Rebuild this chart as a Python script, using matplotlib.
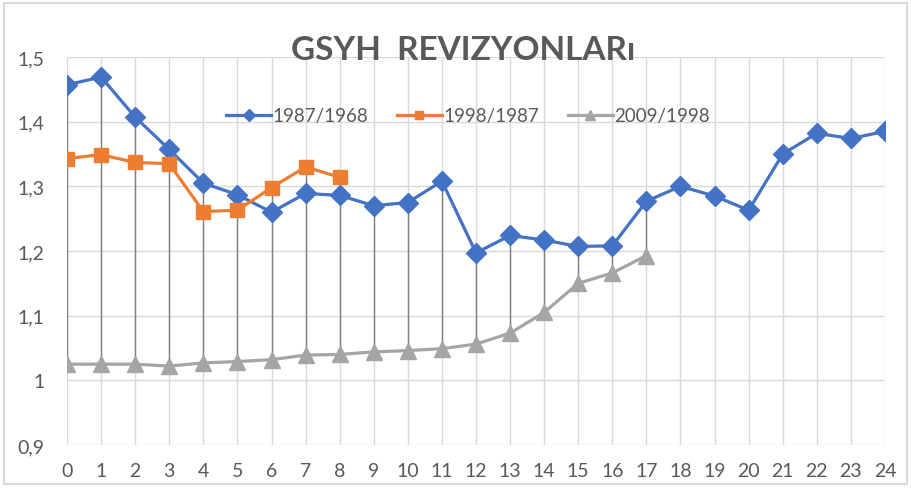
import matplotlib
matplotlib.use("Agg")
import matplotlib.pyplot as plt
from matplotlib.patches import Rectangle

# ---- data ----
x_labels = [str(i) for i in range(25)]
s1_name = "1987/1968"
s1 = [1.457, 1.469, 1.407, 1.357, 1.305, 1.287, 1.260, 1.289, 1.286, 1.270, 1.275, 1.308,
      1.197, 1.224, 1.217, 1.207, 1.208, 1.277, 1.300, 1.285, 1.263, 1.350, 1.382, 1.374, 1.385]
s2_name = "1998/1987"
s2 = [1.343, 1.349, 1.337, 1.335, 1.261, 1.263, 1.298, 1.330, 1.314]
s3_name = "2009/1998"
s3 = [1.025, 1.025, 1.025, 1.022, 1.027, 1.029, 1.032, 1.039, 1.040, 1.044, 1.046, 1.049,
      1.056, 1.073, 1.105, 1.150, 1.166, 1.193]
y_ticks = [0.9, 1.0, 1.1, 1.2, 1.3, 1.4, 1.5]
y_tick_labels = ["0,9", "1", "1,1", "1,2", "1,3", "1,4", "1,5"]
title = "GSYH  REVIZYONLARı"

plt.rcParams['font.family'] = ['Lato', 'DejaVu Sans']

TXT = "#595959"
BLUE = "#4472C4"
ORANGE = "#ED7D31"
GRAY = "#A5A5A5"
GRID = "#D9D9D9"

fig = plt.figure(figsize=(9.11, 4.89), dpi=100)
ax = fig.add_axes([67/911, 1-446/489, (885-67)/911, (446-58)/489])

series = [s1, s2, s3]
# high-low lines
for i in range(len(x_labels)):
    vals = [s[i] for s in series if i < len(s)]
    if len(vals) >= 2:
        ax.vlines(i, min(vals), max(vals), color="#7F7F7F", lw=1.0, zorder=2)

ax.plot(range(len(s1)), s1, color=BLUE, lw=2.3, marker="D", ms=10, label=s1_name, zorder=4)
ax.plot(range(len(s2)), s2, color=ORANGE, lw=2.3, marker="s", ms=10, label=s2_name, zorder=5)
ax.plot(range(len(s3)), s3, color=GRAY, lw=2.3, marker="^", ms=11, label=s3_name, zorder=3)

ax.set_xlim(0, len(x_labels) - 1)
ax.set_ylim(0.9, 1.5)
ax.set_xticks(range(len(x_labels)))
ax.set_xticklabels(x_labels)
ax.set_yticks(y_ticks)
ax.set_yticklabels(y_tick_labels)
ax.grid(True, color=GRID, lw=1.0, zorder=0)
ax.set_axisbelow(True)
for sp in ax.spines.values():
    sp.set_visible(False)
ax.tick_params(length=0, labelsize=14, labelcolor=TXT)
ax.tick_params(axis="y", pad=16)
ax.tick_params(axis="x", pad=12)

fig.text(463/911, 1-50/489, title, ha="center", va="center", fontsize=24,
         fontweight="bold", color=TXT)

leg = fig.legend(loc="center", bbox_to_anchor=(468/911, 1-117/489), ncol=3, frameon=False,
                 fontsize=13.5, handlelength=2.4, columnspacing=1.5, handletextpad=0.1,
                 markerscale=0.6)
for t in leg.get_texts():
    t.set_color(TXT)

fig.patches.append(Rectangle((4/911, 4/489), 903/911, 481/489, transform=fig.transFigure,
                             fill=False, edgecolor=GRID, lw=1.5))

fig.savefig("out.png", dpi=100)
